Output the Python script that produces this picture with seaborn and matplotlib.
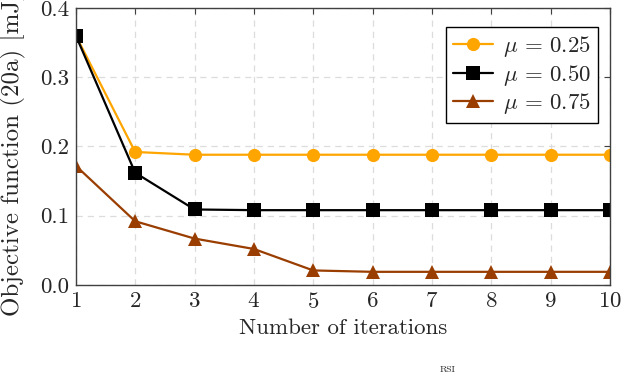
import matplotlib
matplotlib.use("Agg")
import matplotlib.pyplot as plt
import seaborn as sns
import pandas as pd
from matplotlib.ticker import FormatStrFormatter

iterations = [1, 2, 3, 4, 5, 6, 7, 8, 9, 10]
mu_025 = [0.360, 0.192, 0.188, 0.188, 0.188, 0.188, 0.188, 0.188, 0.188, 0.188]
mu_050 = [0.360, 0.162, 0.109, 0.108, 0.108, 0.108, 0.108, 0.108, 0.108, 0.108]
mu_075 = [0.172, 0.092, 0.067, 0.052, 0.021, 0.019, 0.019, 0.019, 0.019, 0.019]
labels = [r"$\mu\,=\,0.25$", r"$\mu\,=\,0.50$", r"$\mu\,=\,0.75$"]
colors = ["#FFA500", "#000000", "#993D00"]
markers = ["o", "s", "^"]

rows = []
for lab, vals in zip(labels, [mu_025, mu_050, mu_075]):
    for it, v in zip(iterations, vals):
        rows.append({"it": it, "val": v, "series": lab})
df = pd.DataFrame(rows)

sns.set_style("white")
plt.rcParams["font.family"] = "serif"
plt.rcParams["font.serif"] = ["cmr10", "DejaVu Serif"]
plt.rcParams["mathtext.fontset"] = "cm"
plt.rcParams["axes.formatter.use_mathtext"] = True

FS = 16.5
fig = plt.figure(figsize=(6.32, 3.74), dpi=100)
ax = fig.add_axes([0.120, 0.238, 0.845, 0.741])

sns.lineplot(data=df, x="it", y="val", hue="series", style="series",
             palette=colors, markers=markers, dashes=False, ax=ax,
             linewidth=1.6, markersize=9.5, markeredgewidth=0,
             hue_order=labels, style_order=labels)

ax.set_xlim(1, 10)
ax.set_ylim(0, 0.4)
ax.set_xticks(iterations)
ax.set_yticks([0.0, 0.1, 0.2, 0.3, 0.4])
ax.yaxis.set_major_formatter(FormatStrFormatter("%.1f"))
ax.grid(True, color="#dcdcdc", linestyle=(0, (5, 4)), linewidth=0.9)
ax.set_axisbelow(True)
for s in ax.spines.values():
    s.set_color("#404040")
    s.set_linewidth(1.0)
ax.tick_params(direction="in", length=4, width=0.8, color="#404040",
               labelsize=FS, top=True, right=True, pad=5)
ax.set_xlabel("Number of iterations", fontsize=FS, labelpad=5)
ax.set_ylabel("Objective function (20a) [mJ]", fontsize=18)
ax.yaxis.set_label_coords(-0.093, 0.47)

leg = ax.legend(loc="upper right", bbox_to_anchor=(0.977, 0.93), fontsize=FS,
                frameon=True, fancybox=False, edgecolor="#000000",
                framealpha=1, borderpad=0.3, labelspacing=0.15,
                handlelength=1.75, handletextpad=0.4, borderaxespad=0)
leg.get_frame().set_linewidth(1.0)
for line in leg.get_lines():
    line.set_linewidth(1.6)
    line.set_markersize(9.5)

fig.text(0.708, 0.0, "RSI", fontsize=7, ha="center", va="bottom")

fig.savefig("out.png", dpi=100)
